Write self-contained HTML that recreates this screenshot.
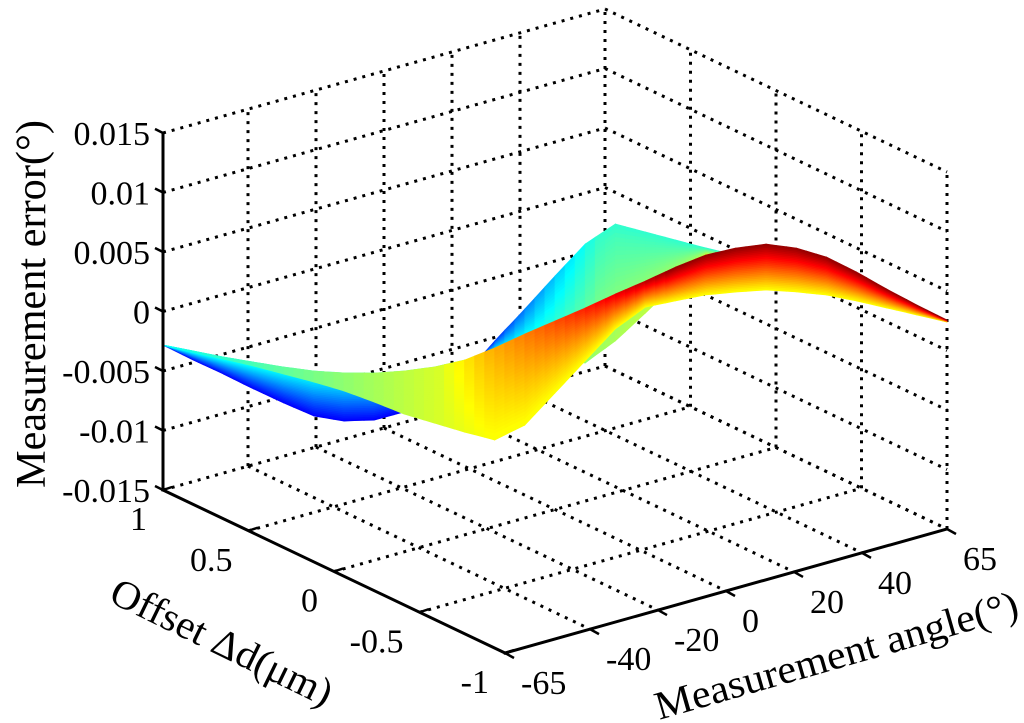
<!DOCTYPE html>
<html><head><meta charset="utf-8">
<style>
html,body{margin:0;padding:0;background:#fff;}
svg{display:block;font-family:"Liberation Serif","DejaVu Serif",serif;}
</style></head>
<body>
<svg id="chart" width="1024" height="723" viewBox="0 0 1024 723" xmlns="http://www.w3.org/2000/svg">
<g id="grid"></g>
<g id="surface"></g>
<g id="axes"></g>
<g id="labels"></g>
<text x="0" y="0" font-size="42" textLength="368" lengthAdjust="spacingAndGlyphs" text-anchor="middle" transform="translate(45,304) rotate(-90)">Measurement error(°)</text>
<text x="0" y="0" font-size="40" textLength="242" lengthAdjust="spacingAndGlyphs" text-anchor="middle" transform="translate(216,654) rotate(26)">Offset Δd(μm)</text>
<text x="0" y="0" font-size="40" textLength="376" lengthAdjust="spacingAndGlyphs" text-anchor="middle" transform="translate(840,668) rotate(-16)">Measurement angle(°)</text>
</svg>
<script>
// ---- data ----
const angles = [-65,-60,-55,-50,-45,-40,-35,-30,-25,-20,-15,-10,-5,0,5,10,15,20,25,30,35,40,45,50,55,60,65];
// z values (x1e-3 deg) of boundary curves of the surface
const zBlue   = [-2.82,-3.95,-5.0,-6.13,-7.18,-8.15,-8.45,-8.24,-7.44,-6.13,-4.08,-1.09,1.72,4.62,7.44,9.24,8.70,8.15,7.61,7.14,6.60,5.97,5.25,4.54,3.82,3.19,2.56];
const zCyan   = [-2.82,-3.19,-3.57,-3.87,-4.16,-4.37,-4.41,-4.29,-3.99,-3.53,-2.82,-2.18,-2.31,-2.44,-2.56,-0.59,1.89,4.45,6.93,6.89,6.43,5.71,5.0,4.29,3.66,3.11,2.56];
const zYellow = [-2.82,-3.28,-3.74,-4.20,-4.75,-5.29,-5.92,-6.72,-7.61,-8.24,-8.87,-9.41,-8.03,-5.21,-2.39,0.42,2.39,3.03,3.66,4.03,4.33,4.29,4.16,3.78,3.32,2.86,2.39];
const zDarkRed= [-2.82,-3.19,-3.57,-3.87,-4.16,-4.37,-4.41,-4.29,-3.99,-3.53,-2.82,-1.68,-0.38,0.84,2.06,3.36,4.58,5.88,7.02,7.73,8.19,7.98,7.35,6.22,4.92,3.70,2.56];
const zTicks = [-0.015,-0.01,-0.005,0,0.005,0.01,0.015];
const zTickLabels = ["-0.015","-0.01","-0.005","0","0.005","0.01","0.015"];
const angleTicks = [-65,-40,-20,0,20,40,65];
const angleTickLabels = ["-65","-40","-20","0","20","40","65"];
const offsetTicks = [1,0.5,0,-0.5,-1];
const offsetTickLabels = ["1","0.5","0","-0.5","-1"];

const NS = "http://www.w3.org/2000/svg";
function P(a,o,z){
  const t=(1-o)/2, u=(a+65)/130, h=(z+0.015)/0.03;
  return [163+342*t+442*u, 490+163*t-124*u-357*h];
}
function clamp(v){return v<0?0:(v>1?1:v);}
function jet(v){
  const r=clamp(1.5-Math.abs(4*v-3)), g=clamp(1.5-Math.abs(4*v-2)), b=clamp(1.5-Math.abs(4*v-1));
  return "rgb("+Math.round(r*255)+","+Math.round(g*255)+","+Math.round(b*255)+")";
}
function line(parent,p1,p2,attrs,name){
  const l=document.createElementNS(NS,"line");
  l.setAttribute("x1",p1[0]);l.setAttribute("y1",p1[1]);l.setAttribute("x2",p2[0]);l.setAttribute("y2",p2[1]);
  for(const k in attrs) l.setAttribute(k,attrs[k]);
  
  
  parent.appendChild(l);
}
const grid=document.getElementById("grid");
const dot={stroke:"#000","stroke-width":3,"stroke-dasharray":"3 6"};
const zmin=-0.015,zmax=0.015;
zTicks.forEach(z=>{ line(grid,P(-65,1,z),P(65,1,z),dot,"grid-line-z"); });
angleTicks.slice(1).forEach(a=>{ line(grid,P(a,1,zmin),P(a,1,zmax),dot,"grid-line-angle-wall"); });
zTicks.forEach(z=>{ line(grid,P(65,1,z),P(65,-1,z),dot,"grid-line-z-right"); });
offsetTicks.slice(1).forEach(o=>{ line(grid,P(65,o,zmin),P(65,o,zmax),dot,"grid-line-offset-wall"); });
angleTicks.slice(1).forEach(a=>{ line(grid,P(a,1,zmin),P(a,-1,zmin),dot,"grid-line-angle-floor"); });
offsetTicks.slice(1,4).forEach(o=>{ line(grid,P(-65,o,zmin),P(65,o,zmin),dot,"grid-line-offset-floor"); });

// ---- surface ----
const surf=document.getElementById("surface");
function drawSheet(cA,cB,colorFn,nS){
  const sub=3;
  for(let i=0;i<nS;i++){
    const s0=i/nS,s1=(i+1)/nS;
    for(let j=0;j<angles.length-1;j++){
      for(let k=0;k<sub;k++){
        const f0=k/sub,f1=(k+1)/sub;
        const pt=(f,s)=>{
          const a=angles[j]+(angles[j+1]-angles[j])*f;
          const za=cA[j]+(cA[j+1]-cA[j])*f, zb=cB[j]+(cB[j+1]-cB[j])*f;
          const z=(za+(zb-za)*s)/1000;
          return P(a,-a/65,z);
        };
        const q=[pt(f0,s0),pt(f1,s0),pt(f1,s1),pt(f0,s1)];
        const cx=(q[0][0]+q[1][0])/2;
        const cy=(q[0][1]+q[1][1]+q[2][1]+q[3][1])/4;
        const col=colorFn(cx,(s0+s1)/2,cy);
        const p=document.createElementNS(NS,"path");
        p.setAttribute("d","M"+q.map(v=>v[0].toFixed(1)+","+v[1].toFixed(1)).join("L")+"Z");
        p.setAttribute("fill",col);p.setAttribute("stroke",col);p.setAttribute("stroke-width","0.7");
        
        
        surf.appendChild(p);
      }
    }
  }
}
drawSheet(zBlue,zCyan,(x,s,y)=>jet(0.12+0.3*s+0.22*clamp((x-470)/130)*(1-s*0.5)+0.08*clamp((360-y)/120)),26);
drawSheet(zYellow,zDarkRed,(x,s)=>jet(0.38+0.24*clamp((x-163)/322)+0.36*s*clamp((x-440)/230)),26);

// ---- axes ----
const axes=document.getElementById("axes");
const solid={stroke:"#000","stroke-width":3,"stroke-linecap":"square"};
line(axes,P(-65,1,zmin),P(-65,1,zmax),solid,"z-axis-line");
line(axes,P(-65,1,zmin),P(-65,-1,zmin),solid,"offset-axis-line");
line(axes,P(-65,-1,zmin),P(65,-1,zmin),solid,"angle-axis-line");
const tk={stroke:"#000","stroke-width":2.5};
const labels=document.getElementById("labels");
function txt(x,y,s,anchor,name){
  const t=document.createElementNS(NS,"text");
  t.setAttribute("x",x);t.setAttribute("y",y);t.setAttribute("font-size","34");t.setAttribute("text-anchor",anchor);
  t.textContent=s;
  
  
  labels.appendChild(t);
}
zTicks.forEach((z,i)=>{
  const p=P(-65,1,z);
  line(axes,p,[p[0]-8,p[1]-4],tk,"z-tick");
  txt(150,p[1]+12,zTickLabels[i],"end","z-tick-label");
});
offsetTicks.forEach((o,i)=>{
  const p=P(-65,o,zmin);
  line(axes,p,[p[0]+9,p[1]-3],tk,"offset-tick");
  txt(p[0]-16,p[1]+40,offsetTickLabels[i],"end","offset-tick-label");
});
angleTicks.forEach((a,i)=>{
  const p=P(a,-1,zmin);
  line(axes,p,[p[0]+9,p[1]+5],tk,"angle-tick");
  txt(p[0]+16,p[1]+41,angleTickLabels[i],"start","angle-tick-label");
});
</script>
</body></html>
